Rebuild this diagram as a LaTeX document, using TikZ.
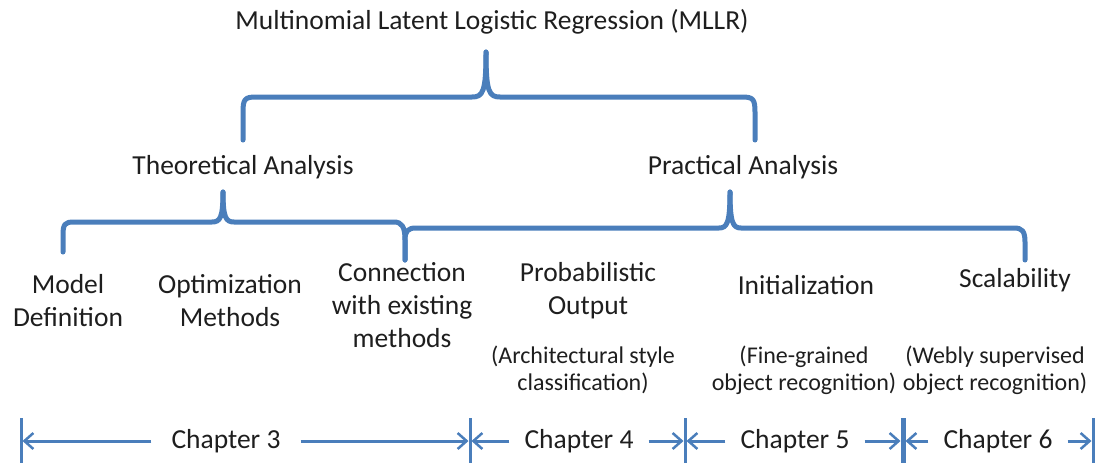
\documentclass[tikz,border=0pt]{standalone}
\usepackage{fontspec}
\setmainfont{Carlito}
\usetikzlibrary{arrows.meta}
\definecolor{lineblue}{RGB}{74,126,187}
\definecolor{txt}{RGB}{30,30,30}
\begin{document}
\begin{tikzpicture}[x=1pt,y=-1pt,
  lbl/.style={inner sep=0pt, align=center, text=txt, font=\fontsize{27.5}{33}\selectfont},
  sub/.style={inner sep=0pt, align=center, text=txt, font=\fontsize{24}{27}\selectfont},
  chap/.style={inner ysep=0pt, inner xsep=15pt, text=txt, font=\fontsize{27.5}{30}\selectfont},
  brace/.style={draw=lineblue, line width=5pt, line join=round, line cap=round},
  bar/.style={draw=lineblue, line width=3pt},
  chaparrow/.style={draw=lineblue, line width=3pt, -{Straight Barb[length=9pt,width=16pt,line width=2.5pt]}}
]
\useasboundingbox (0,0) rectangle (1097,463);

% texts
\node[lbl] (mllr) at (492,22) {Multinomial Latent Logistic Regression (MLLR)};
\node[lbl] (theo) at (243,167) {Theoretical Analysis};
\node[lbl] (prac) at (743,167) {Practical Analysis};
\node[lbl] (model) at (68,301) {Model\\Definition};
\node[lbl] (optim) at (230,301) {Optimization\\Methods};
\node[lbl] (conn) at (402,305) {Connection\\with existing\\methods};
\node[lbl] (prob) at (588,291) {Probabilistic\\Output};
\node[lbl] (init) at (806,285) {Initialization};
\node[lbl] (scal) at (1015,280) {Scalability};
\node[sub] (arch) at (583,370) {(Architectural style\\classification)};
\node[sub] (fine) at (804,370) {(Fine-grained\\object recognition)};
\node[sub] (webly) at (995,370) {(Webly supervised\\object recognition)};

% top brace
\coordinate (tA) at (243,140);
\coordinate (tT) at (486,52);
\coordinate (tB) at (755,140);
\draw[brace] (tA) -- (243,112) .. controls (243,99) and (245,97) .. (256,97)
  -- (472,97) .. controls (483,97) and (486,92) .. (tT);
\draw[brace] (tB) -- (755,112) .. controls (755,99) and (753,97) .. (742,97)
  -- (500,97) .. controls (489,97) and (486,92) .. (tT);

% theoretical brace
\coordinate (hA) at (63,252);
\coordinate (hT) at (223,192);
\coordinate (hB) at (405,260);
\draw[brace] (hA) -- (63,235) .. controls (63,224) and (65,222) .. (74,222)
  -- (212,222) .. controls (220,222) and (223,218) .. (hT);
\draw[brace] (hB) -- (405,240) .. controls (405,227) and (402,222) .. (394,222)
  -- (234,222) .. controls (226,222) and (223,218) .. (hT);

% practical brace
\coordinate (pT) at (730,192);
\coordinate (pB) at (1025,260);
\draw[brace] (hB) -- (405,240) .. controls (405,231) and (408,228) .. (416,228)
  -- (719,228) .. controls (727,228) and (730,223) .. (pT);
\draw[brace] (pB) -- (1025,242) .. controls (1025,231) and (1022,228) .. (1014,228)
  -- (741,228) .. controls (733,228) and (730,223) .. (pT);

% chapter bars
\coordinate (b0) at (21,441);
\coordinate (b1) at (470,441);
\coordinate (b2) at (685,441);
\coordinate (b3) at (903,441);
\coordinate (b4) at (1093,441);
\draw[bar] (21,418) -- (21,463);
\draw[bar] (470,418) -- (470,463);
\draw[bar] (685,418) -- (685,463);
\draw[bar, line width=5pt] (903,418) -- (903,463);
\draw[bar] (1093,418) -- (1093,463);

% chapter labels
\node[chap, inner xsep=20pt] (c3) at (226,441) {Chapter 3};
\node[chap] (c4) at (579,441) {Chapter 4};
\node[chap] (c5) at (795,441) {Chapter 5};
\node[chap] (c6) at (998,441) {Chapter 6};

\draw[chaparrow] (c3.west) -- ([xshift=1.5pt]b0);
\draw[chaparrow] (c3.east) -- ([xshift=-1.5pt]b1);
\draw[chaparrow] (c4.west) -- ([xshift=1.5pt]b1);
\draw[chaparrow] (c4.east) -- ([xshift=-1.5pt]b2);
\draw[chaparrow] (c5.west) -- ([xshift=1.5pt]b2);
\draw[chaparrow] (c5.east) -- ([xshift=-2.5pt]b3);
\draw[chaparrow] (c6.west) -- ([xshift=2.5pt]b3);
\draw[chaparrow] (c6.east) -- ([xshift=-1.5pt]b4);
\end{tikzpicture}
\end{document}
